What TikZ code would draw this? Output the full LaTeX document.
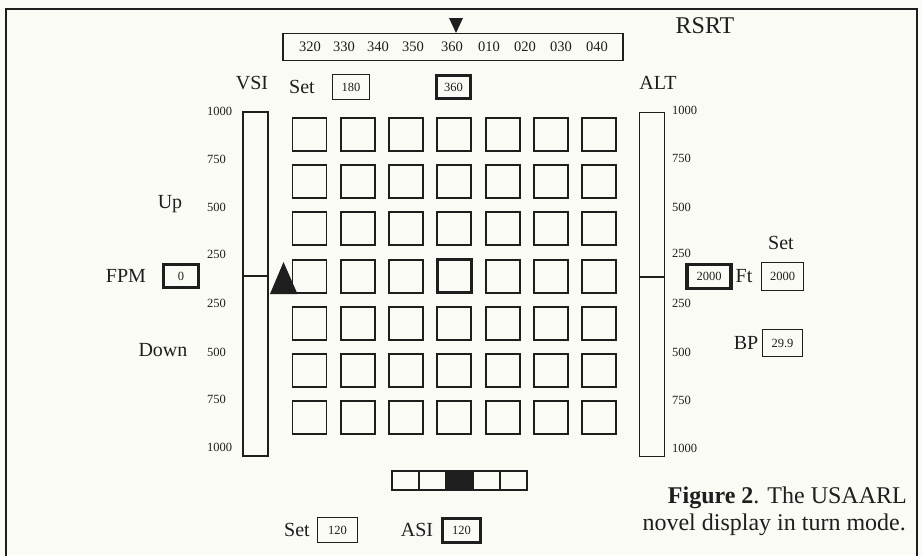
\documentclass[tikz,border=0pt]{standalone}
\usepackage{fontspec}
\setmainfont{Liberation Serif}
\definecolor{ink}{RGB}{30,30,30}
\definecolor{paper}{RGB}{251,251,246}
\begin{document}
\begin{tikzpicture}[x=1pt,y=-1pt,
  every node/.style={text=ink},
  cell/.style={draw=ink, minimum width=34pt, minimum height=33pt, inner sep=0pt},
  numbox/.style={draw=ink, line width=1.3pt, inner sep=0pt, font=\fontsize{12.5}{12.5}\selectfont},
  thickbox/.style={draw=ink, line width=3.5pt, inner sep=0pt, font=\fontsize{12.5}{12.5}\selectfont},
  lbl/.style={font=\fontsize{20}{20}\selectfont, inner sep=0pt},
  scl/.style={font=\fontsize{12.5}{12.5}\selectfont, anchor=west, inner sep=0pt},
  tapenum/.style={font=\fontsize{14.5}{14.5}\selectfont, inner sep=0pt},
  bar/.style={draw=ink, line width=1.4pt, inner sep=0pt, minimum width=25pt, minimum height=344pt},
  seg/.style={draw=ink, line width=1.3pt, inner sep=0pt, minimum width=27pt, minimum height=19pt}]
\useasboundingbox (0,0) rectangle (922,555);
\fill[paper] (0,0) rectangle (922,555);
% frame
\draw[ink, line width=1.6pt] (6,560) -- (6,9) -- (917,9) -- (917,560);

% heading tape
\node[draw=ink, line width=1.4pt, minimum width=340pt, minimum height=27pt, inner sep=0pt] (tape) at (453,47) {};
\foreach \v/\x in {320/310,330/344,340/378,350/413,360/452,010/489,020/525,030/561,040/597}
  \node[tapenum] (h\v) at (\x,47) {\v};
\fill[ink] (449,18) -- (463,18) -- (456,33) -- cycle;
\node[font=\fontsize{24}{24}\selectfont, inner sep=0pt] (rsrt) at (705,26) {RSRT};

% heading set
\node[lbl] (hset) at (302,87) {Set};
\node[numbox, minimum width=37pt, minimum height=25pt] (hsetbox) at (351,87) {180};
\node[thickbox, minimum width=34pt, minimum height=23pt] (hcur) at (453.5,87) {360};

% grid
\foreach \i in {0,...,6}{
  \foreach \j in {0,...,6}{
    \pgfmathsetmacro\lw{(\i==3 && \j==3) ? 3.6 : 1.9}
    \node[cell, line width=\lw pt] (c\i\j) at ({309.5+48.3*\i},{134.5+47.2*\j}) {};
  }
}

% VSI
\node[lbl] (vsi) at (252,83) {VSI};
\node[bar] (vsibar) at (255.5,284) {};
\coordinate (vsimid) at (255.5,276);
\draw[ink, line width=1.3pt] (vsibar.west |- vsimid) -- (vsibar.east |- vsimid);
\fill[ink] (270,294) -- (297.5,294) -- (283.5,262) -- cycle;
\foreach \t/\y [count=\k] in {1000/111,750/159,500/207,250/254,250/303,500/352,750/399,1000/447}
  \node[scl] (vl\k) at (207,\y) {\t};
\node[lbl] (up) at (170,204) {Up};
\node[lbl] (down) at (163,350) {Down};
\node[lbl] (fpm) at (126,276) {FPM};
\node[thickbox, minimum width=35pt, minimum height=23pt] (fpmbox) at (181,276) {0};

% ALT
\node[lbl] (alt) at (658,83) {ALT};
\node[bar] (altbar) at (652,284.5) {};
\coordinate (altmid) at (652,277);
\draw[ink, line width=1.3pt] (altbar.west |- altmid) -- (altbar.east |- altmid);
\foreach \t/\y [count=\k] in {1000/110,750/158,500/207,250/253,250/303,500/352,750/400,1000/448}
  \node[scl] (al\k) at (672,\y) {\t};
\node[thickbox, minimum width=44pt, minimum height=24pt] (altcur) at (709,276.5) {2000};
\node[lbl] (ft) at (744,276) {Ft};
\node[lbl] (aset) at (781,243) {Set};
\node[numbox, minimum width=42pt, minimum height=28pt] (asetbox) at (782.5,276.5) {2000};
\node[lbl] (bp) at (746,343) {BP};
\node[numbox, minimum width=40pt, minimum height=27pt] (bpbox) at (782.5,343) {29.9};

% airspeed trend bar
\foreach \x [count=\k] in {405.5,432.5,459.5,486.5,513.5}
  \node[seg] (s\k) at (\x,480.5) {};
\fill[ink] (s3.north west) rectangle (s3.south east);

% bottom
\node[lbl] (sset) at (297,530) {Set};
\node[numbox, minimum width=40pt, minimum height=25pt] (ssetbox) at (337.5,530) {120};
\node[lbl] (asi) at (417,530) {ASI};
\node[thickbox, minimum width=38pt, minimum height=24pt] (asibox) at (461.5,530.5) {120};

% caption
\node[anchor=base east, inner sep=0pt, font=\fontsize{24}{24}\selectfont] (cap1) at (907,503) {\textbf{Figure 2}. The USAARL};
\node[anchor=base east, inner sep=0pt, font=\fontsize{24}{24}\selectfont] (cap2) at (906,530) {novel display in turn mode.};
\end{tikzpicture}
\end{document}
